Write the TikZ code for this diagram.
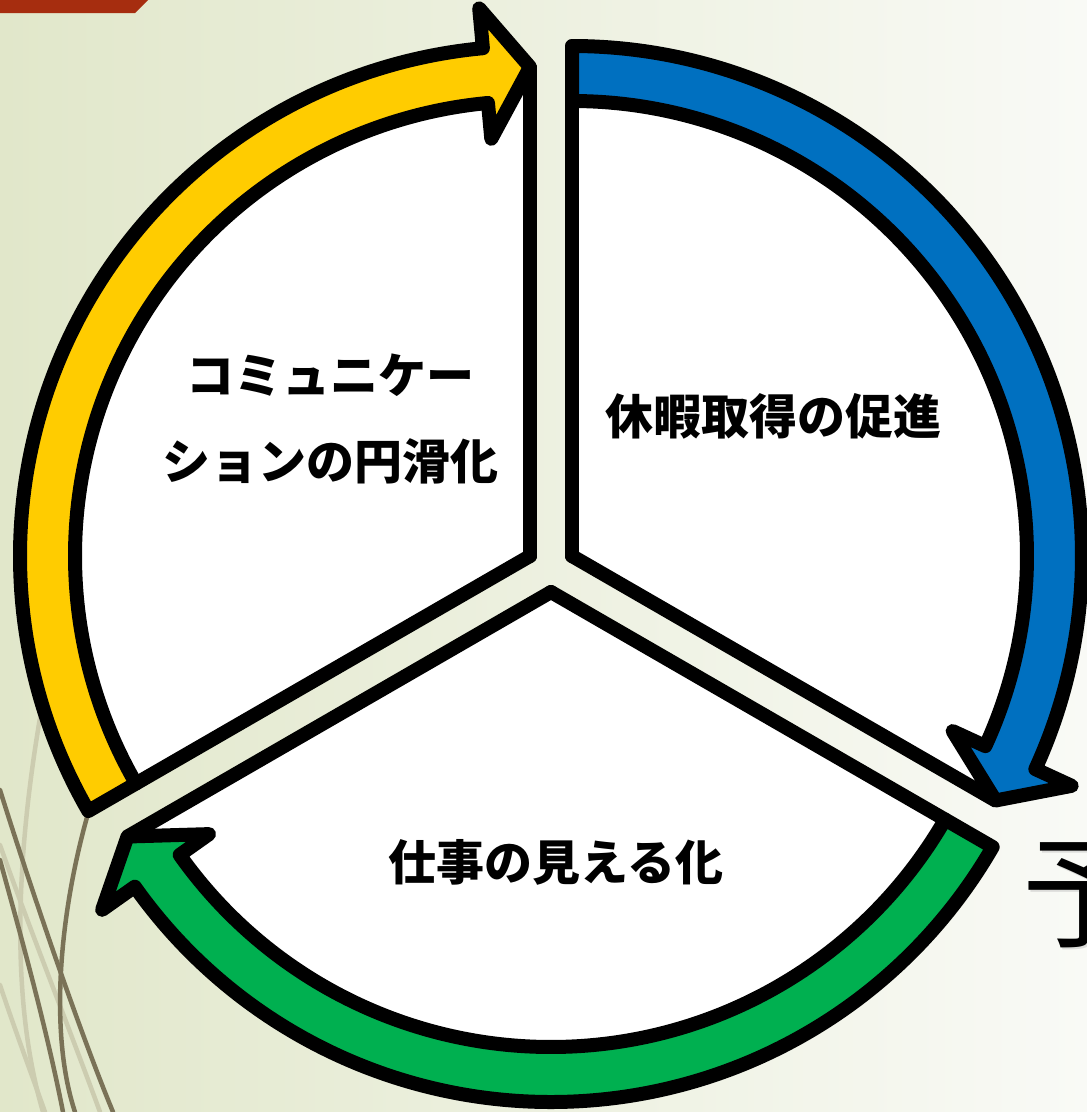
\documentclass[tikz,border=0pt]{standalone}
\usepackage{fontspec}
\usetikzlibrary{calc}
\newfontfamily\jp{Noto Sans CJK JP}
\definecolor{bgL}{HTML}{E1E7CA}
\definecolor{bgR}{HTML}{F9FAF6}
\definecolor{barred}{HTML}{A62D0F}
\definecolor{ylw}{HTML}{FFCC00}
\definecolor{blu}{HTML}{0070C0}
\definecolor{grn}{HTML}{00B050}
\definecolor{darkln}{HTML}{7A7257}
\definecolor{lightln}{HTML}{CCCCB0}
\tikzset{
  outl/.style={draw=black, line width=14pt, line join=round, line cap=round},
  lbl/.style={font=\jp\bfseries\fontsize{48}{86}\selectfont, align=center, inner sep=0pt},
  deco/.style={line width=4.5pt, line cap=round},
}
\newcommand\cycpiece[4]{%
  \pgfmathsetmacro\baseang{#3+5.3}%
  \fill[white] (#1) -- ($(#1)+(#2:487)$) arc[start angle=#2, end angle=#3, radius=487] -- cycle;
  \draw[outl] (#1) -- ($(#1)+(#2:455)$);
  \draw[outl] (#1) -- ($(#1)+(#3:488)$);
  \draw[outl, fill=#4] ($(#1)+(#2:510)$) arc[start angle=#2, end angle=\baseang, radius=510]
     -- ($(#1)+(\baseang:550)$) -- ($(#1)+(#3:489)$) -- ($(#1)+(\baseang:419)$)
     -- ($(#1)+(\baseang:455)$) arc[start angle=\baseang, end angle=#2, radius=455] -- cycle;
}
\begin{document}
\begin{tikzpicture}[x=1pt, y=1pt]
\useasboundingbox (0,-1112) rectangle (1087,0);
\clip (0,-1112) rectangle (1087,0);
\shade[left color=bgL, right color=bgR] (0,-1112) rectangle (1087,0);
% top-left bar
\fill[barred] (0,0) -- (148,0) -- (135,-13) -- (0,-13) -- cycle;
% background curves
\draw[deco, lightln] (45,-690) .. controls (15,-850) and (10,-1000) .. (43,-1112);
\draw[deco, lightln] (0,-845) .. controls (30,-930) and (70,-1030) .. (100,-1112);
\draw[deco, lightln] (0,-985) .. controls (15,-1030) and (30,-1070) .. (45,-1112);
\draw[deco, darkln] (92,-800) .. controls (60,-905) and (48,-1030) .. (75,-1112);
\draw[deco, darkln] (0,-790) .. controls (25,-870) and (75,-1020) .. (113,-1112);
\draw[deco, darkln] (0,-860) .. controls (15,-915) and (45,-1020) .. (63,-1112);
% partial title character
\node[anchor=base west, inner sep=0pt, text=black!30, opacity=0.4,
      font=\jp\fontsize{122}{122}\selectfont] (titleshadow) at (1024,-940.5) {予};
\node[anchor=base west, inner sep=0pt, text=black,
      font=\jp\fontsize{122}{122}\selectfont] (title) at (1022,-938.5) {予};
% cycle pieces
\coordinate (vY) at (530,-556);
\coordinate (vB) at (572,-556);
\coordinate (vG) at (551,-592);
\cycpiece{vY}{210}{90}{ylw}
\cycpiece{vB}{90}{-30}{blu}
\cycpiece{vG}{-30}{-150}{grn}
% labels
\node[lbl] (comm) at (330,-419) {コミュニケー\\ションの円滑化};
\node[lbl] (leave) at (773,-416) {休暇取得の促進};
\node[lbl] (work) at (556,-862) {仕事の見える化};
\end{tikzpicture}
\end{document}
